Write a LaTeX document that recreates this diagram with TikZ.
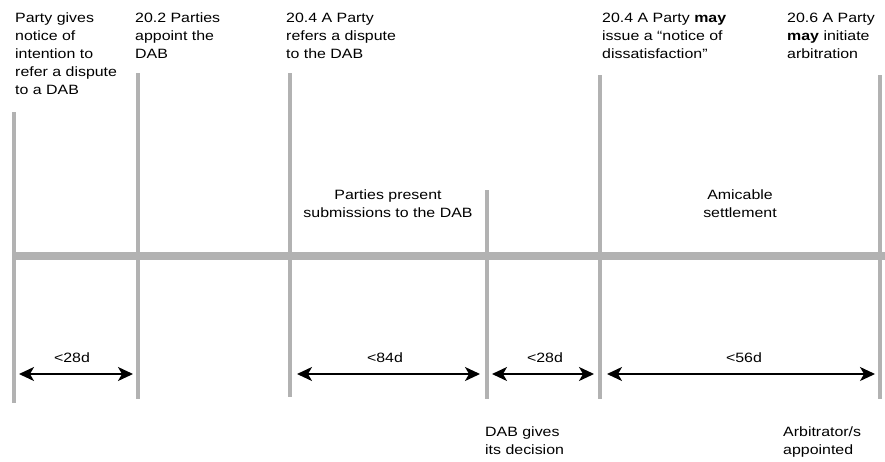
\documentclass[tikz,border=0pt]{standalone}
\usepackage{fontspec}
\setmainfont[FakeStretch=1.18]{Liberation Sans}
\usetikzlibrary{arrows.meta}
\definecolor{tlgray}{RGB}{178,178,178}
\begin{document}
\begin{tikzpicture}[x=1pt,y=-1pt,
  vline/.style={draw=tlgray,line width=4.5pt},
  bar/.style={draw=tlgray,line width=8.5pt},
  span/.style={{Stealth[length=15pt,width=14pt,inset=4pt]}-{Stealth[length=15pt,width=14pt,inset=4pt]},line width=1.5pt},
  txt/.style={font=\fontsize{13.5}{18}\selectfont,inner sep=0pt},
  lbl/.style={txt,align=left,anchor=north west},
  clbl/.style={txt,align=center},
]
\useasboundingbox (0,0) rectangle (885,461);
% vertical lines
\coordinate (v1t) at (14,112);  \coordinate (v1b) at (14,403);
\coordinate (v2t) at (138,73);  \coordinate (v2b) at (138,399);
\coordinate (v3t) at (290,73);  \coordinate (v3b) at (290,397);
\coordinate (v4t) at (487,190); \coordinate (v4b) at (487,399);
\coordinate (v5t) at (600,75);  \coordinate (v5b) at (600,399);
\coordinate (v6t) at (880,75);  \coordinate (v6b) at (880,399);
\foreach \i in {1,...,6} {\draw[vline] (v\i t) -- (v\i b);}
% main bar
\coordinate (barL) at (14,256);
\coordinate (barR) at (885,256);
\draw[bar] (barL) -- (barR);
% spans
\coordinate (a1l) at (19,374);  \coordinate (a1r) at (133,374);
\coordinate (a2l) at (297,374); \coordinate (a2r) at (480,374);
\coordinate (a3l) at (492,374); \coordinate (a3r) at (594,374);
\coordinate (a4l) at (607,374); \coordinate (a4r) at (875,374);
\draw[span] (a1l) -- (a1r);
\draw[span] (a2l) -- (a2r);
\draw[span] (a3l) -- (a3r);
\draw[span] (a4l) -- (a4r);
\node[clbl] (d1) at (72,358) {<28d};
\node[clbl] (d2) at (385,358) {<84d};
\node[clbl] (d3) at (545,358) {<28d};
\node[clbl] (d4) at (744,358) {<56d};
% top texts
\node[lbl] (t1) at (15,13) {Party gives\\notice of\\intention to\\refer a dispute\\to a DAB};
\node[lbl] (t2) at (135,13) {20.2 Parties\\appoint the\\DAB};
\node[lbl] (t3) at (286,13) {20.4 A Party\\refers a dispute\\to the DAB};
\node[lbl] (t4) at (602,13) {20.4 A Party \textbf{may}\\issue a “notice of\\dissatisfaction”};
\node[lbl] (t5) at (787,13) {20.6 A Party\\\textbf{may} initiate\\arbitration};
% middle texts
\node[clbl] (m1) at (388,204) {Parties present\\submissions to the DAB};
\node[clbl] (m2) at (740,204) {Amicable\\settlement};
% bottom texts
\node[lbl] (b1) at (485,427) {DAB gives\\its decision};
\node[lbl] (b2) at (783,427) {Arbitrator/s\\appointed};
\end{tikzpicture}
\end{document}
